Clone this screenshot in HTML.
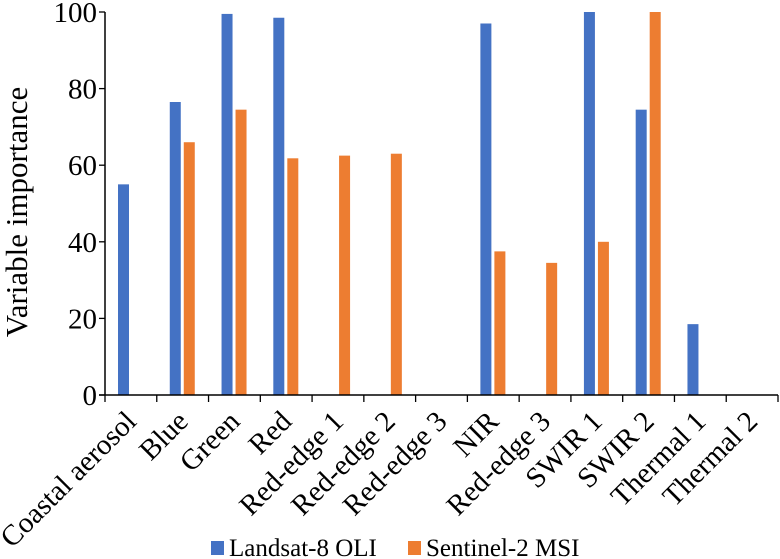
<!DOCTYPE html>
<html><head><meta charset="utf-8"><style>
body{margin:0;background:#fff}
svg{display:block;font-family:"Liberation Serif",serif}
</style></head><body>
<svg width="780" height="559" viewBox="0 0 780 559">
<g id="plot"></g>
<g>
<rect x="211" y="541" width="13" height="14" fill="#4472c4"/>
<text x="229" y="556" font-size="25">Landsat-8 OLI</text>
<rect x="408" y="541" width="13" height="14" fill="#ed7d31"/>
<text x="426" y="556" font-size="25">Sentinel-2 MSI</text>
</g>
<text transform="translate(27,212) rotate(-90)" text-anchor="middle" font-size="31">Variable importance</text>
</svg>
<script>
const categories=["Coastal aerosol","Blue","Green","Red","Red-edge 1","Red-edge 2","Red-edge 3","NIR","Red-edge 3","SWIR 1","SWIR 2","Thermal 1","Thermal 2"];
const landsat=[55,76.5,99.5,98.5,0,0,0,97,0,100,74.5,18.5,0];
const sentinel=[0,66,74.5,61.8,62.5,63,0,37.5,34.5,40,100,0,0];
const yTicks=[0,20,40,60,80,100];
const NS="http://www.w3.org/2000/svg";
const g=document.getElementById('plot');
const x0=105,x1=778,y0=395,yTop=12;
const cw=(x1-x0)/categories.length;
const ys=v=>y0-(v/100)*(y0-yTop);
function mk(t,a){const e=document.createElementNS(NS,t);for(const k in a)e.setAttribute(k,a[k]);g.appendChild(e);return e;}
yTicks.forEach(v=>{
 const t=mk('text',{x:97,y:ys(v)+10,'text-anchor':'end','font-size':29});t.textContent=v;
 
 
 const l=mk('line',{x1:x0-6,x2:x0,y1:ys(v),y2:ys(v),stroke:'#000','stroke-width':1.3});
 
 
});
categories.forEach((c,i)=>{
 const cx=x0+i*cw;
 if(landsat[i]>0){const r=mk('rect',{x:cx+13,y:ys(landsat[i]),width:11,height:y0-ys(landsat[i]),fill:'#4472c4'});
  
  }
 if(sentinel[i]>0){const r=mk('rect',{x:cx+27,y:ys(sentinel[i]),width:11,height:y0-ys(sentinel[i]),fill:'#ed7d31'});
  
  }
 const t=mk('text',{'text-anchor':'end','font-size':29,transform:`translate(${cx+cw/2+7},${y0+28}) rotate(-45)`});
 t.textContent=c;
 
 
});
for(let i=0;i<=categories.length;i++){const x=x0+i*cw;const l=mk('line',{x1:x,x2:x,y1:y0,y2:y0+7,stroke:'#000','stroke-width':1.3});
 
 }
const ax=mk('line',{x1:x0,x2:x0,y1:yTop,y2:y0,stroke:'#000','stroke-width':1.5});


const bx=mk('line',{x1:x0-6,x2:x1,y1:y0,y2:y0,stroke:'#000','stroke-width':1.5});


</script>
</body></html>
